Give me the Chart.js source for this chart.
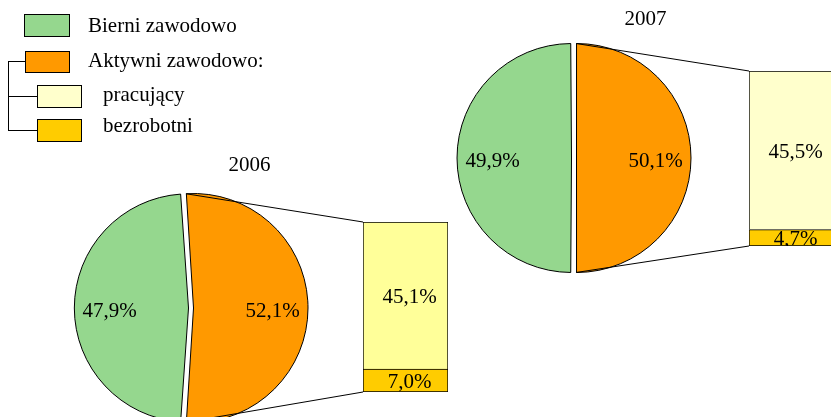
<!DOCTYPE html>
<html><head><meta charset="utf-8">
<script src="https://cdn.jsdelivr.net/npm/chart.js@4.4.0/dist/chart.umd.min.js"></script>
<style>
html,body{margin:0;padding:0;background:#fff;overflow:hidden}
#root{position:relative;width:831px;height:417px;overflow:hidden;font-family:"Liberation Serif","Times New Roman",serif;background:#fff}
.wrap{position:absolute}
.box{position:absolute;box-sizing:border-box;border:1px solid #000}
.txt{position:absolute;font-size:21px;line-height:21px;white-space:nowrap;color:#000}
.ln{position:absolute;background:#000}
#overlay{position:absolute;left:0;top:0;pointer-events:none}
</style></head>
<body><div id="root">
<canvas id="overlay" width="831" height="417"></canvas>
</div>
<script>
// ---- data ----
const years = ['2006', '2007'];
const bierni = [47.9, 49.9];
const aktywni = [52.1, 50.1];
const pracujacy = [45.1, 45.5];
const bezrobotni = [7.0, 4.7];
const legendLabels = ['Bierni zawodowo', 'Aktywni zawodowo:', 'pracujący', 'bezrobotni'];

// ---- styles / layout ----
const GREEN = '#95D78E', ORANGE = '#FF9900', YEL = '#FFCC00';
const PRAC_COLORS = ['#FFFF99', '#FFFFCC'];
const LEG_COLORS = [GREEN, ORANGE, '#FFFFCC', YEL];
const FONT = '21px "Liberation Serif", "Times New Roman", serif';
const layouts = [
  {pie: {left: 71, top: 188, size: 240}, bar: {left: 363, top: 222, w: 85, h: 170}, title: {cx: 249.5, base: 172}},
  {pie: {left: 454, top: 38, size: 240}, bar: {left: 749, top: 71, w: 85, h: 175}, title: {cx: 645.5, base: 26}}
];
const PIE_R = 112, EXPLODE = 10; // Chart.js arc offset (translation = offset/4)
const root = document.getElementById('root');
const fmt = v => v.toFixed(1).replace('.', ',') + '%';

function addText(txt, left, baseline, extra) {
  const d = document.createElement('div');
  d.className = 'txt';
  d.textContent = txt;
  d.style.left = left + 'px';
  d.style.top = (baseline - 17.6) + 'px';
  if (extra) Object.assign(d.style, extra);
  root.appendChild(d);
  return d;
}
function addLine(l, t, w, h) {
  const d = document.createElement('div');
  d.className = 'ln';
  Object.assign(d.style, {left: l + 'px', top: t + 'px', width: w + 'px', height: h + 'px'});
  root.appendChild(d);
}

// ---- legend ----
const legBoxes = [
  {l: 24, t: 14, w: 46, h: 23, tx: 88, base: 33},
  {l: 25, t: 51, w: 45, h: 22, tx: 88, base: 68},
  {l: 37, t: 85, w: 45, h: 23, tx: 103, base: 102},
  {l: 37, t: 119, w: 45, h: 23, tx: 103, base: 133}
];
legendLabels.forEach((lab, i) => {
  const b = legBoxes[i];
  const d = document.createElement('div');
  d.className = 'box';
  Object.assign(d.style, {left: b.l + 'px', top: b.t + 'px', width: b.w + 'px', height: b.h + 'px', background: LEG_COLORS[i]});
  root.appendChild(d);
  addText(lab, b.tx, b.base);
});
addLine(8, 61, 1, 70);
addLine(8, 61, 17, 1);
addLine(8, 96, 29, 1);
addLine(8, 130, 29, 1);

// arc geometry helper matching Chart.js v4 offset handling
function arcGeom(arc, off) {
  const p = arc.getProps(['x', 'y', 'startAngle', 'endAngle', 'outerRadius', 'circumference'], true);
  const mid = (p.startAngle + p.endAngle) / 2;
  const t = off / 4;
  const fix = 1 - Math.sin(Math.min(Math.PI, p.circumference || (p.endAngle - p.startAngle)));
  return {cx: p.x + Math.cos(mid) * t, cy: p.y + Math.sin(mid) * t, r: p.outerRadius + t * fix,
          start: p.startAngle, end: p.endAngle, mid: mid};
}

// ---- plugins ----
const pieLabels = {
  id: 'pieLabels',
  afterDatasetsDraw(chart) {
    const ctx = chart.ctx, ds = chart.data.datasets[0];
    const meta = chart.getDatasetMeta(0);
    ctx.save();
    ctx.font = FONT; ctx.fillStyle = '#000'; ctx.textAlign = 'center'; ctx.textBaseline = 'middle';
    meta.data.forEach((arc, j) => {
      const g = arcGeom(arc, ds.offset[j] || 0);
      const r = g.r * 0.69;
      ctx.fillText(fmt(ds.data[j]), g.cx + Math.cos(g.mid) * r, g.cy + Math.sin(g.mid) * r + 3);
    });
    ctx.restore();
  }
};
const barLabels = {
  id: 'barLabels',
  afterDatasetsDraw(chart) {
    const ctx = chart.ctx;
    ctx.save();
    ctx.font = FONT; ctx.fillStyle = '#000'; ctx.textAlign = 'center'; ctx.textBaseline = 'middle';
    chart.data.datasets.forEach((ds, k) => {
      chart.getDatasetMeta(k).data.forEach((el, j) => {
        const p = el.getProps(['x', 'y', 'base'], true);
        ctx.fillText(fmt(ds.data[j]), p.x + 4, (p.y + p.base) / 2 + 2);
      });
    });
    ctx.restore();
  }
};

function makeCanvas(l, t, w, h) {
  const wrap = document.createElement('div');
  wrap.className = 'wrap';
  Object.assign(wrap.style, {left: l + 'px', top: t + 'px', width: w + 'px', height: h + 'px'});
  const c = document.createElement('canvas');
  c.width = w; c.height = h;
  c.style.width = w + 'px'; c.style.height = h + 'px';
  wrap.appendChild(c);
  root.insertBefore(wrap, document.getElementById('overlay'));
  return c;
}

const pies = [], bars = [];
years.forEach((yr, i) => {
  const L = layouts[i];
  addText(yr, L.title.cx - 50, L.title.base, {width: '100px', textAlign: 'center'});
  const pc = makeCanvas(L.pie.left, L.pie.top, L.pie.size, L.pie.size);
  pies.push(new Chart(pc, {
    type: 'pie',
    data: {
      labels: ['Aktywni zawodowo', 'Bierni zawodowo'],
      datasets: [{
        data: [aktywni[i], bierni[i]],
        backgroundColor: [ORANGE, GREEN],
        borderColor: '#000', borderWidth: 1,
        offset: [EXPLODE, EXPLODE], hoverOffset: 0
      }]
    },
    options: {
      responsive: false, animation: false, events: [],
      radius: PIE_R,
      rotation: 90 - aktywni[i] * 180 / (aktywni[i] + bierni[i]),
      layout: {padding: 0},
      plugins: {legend: {display: false}, tooltip: {enabled: false}}
    },
    plugins: [pieLabels]
  }));
  const bc = makeCanvas(L.bar.left, L.bar.top, L.bar.w, L.bar.h);
  bars.push(new Chart(bc, {
    type: 'bar',
    data: {
      labels: [yr],
      datasets: [
        {label: 'bezrobotni', data: [bezrobotni[i]], backgroundColor: YEL, borderColor: '#000', borderWidth: 1, borderSkipped: false, barPercentage: 1, categoryPercentage: 1},
        {label: 'pracujący', data: [pracujacy[i]], backgroundColor: PRAC_COLORS[i], borderColor: '#000', borderWidth: 1, borderSkipped: 'bottom', barPercentage: 1, categoryPercentage: 1}
      ]
    },
    options: {
      responsive: false, animation: false, events: [],
      layout: {padding: 0},
      scales: {
        x: {stacked: true, display: false},
        y: {stacked: true, display: false, min: 0, max: bezrobotni[i] + pracujacy[i]}
      },
      plugins: {legend: {display: false}, tooltip: {enabled: false}}
    },
    plugins: [barLabels]
  }));
});

function drawConnectors() {
  const oc = document.getElementById('overlay');
  const ctx = oc.getContext('2d');
  ctx.clearRect(0, 0, oc.width, oc.height);
  ctx.strokeStyle = '#000'; ctx.lineWidth = 1;
  years.forEach((yr, i) => {
    const L = layouts[i];
    const g = arcGeom(pies[i].getDatasetMeta(0).data[0], EXPLODE);
    const cx = L.pie.left + g.cx, cy = L.pie.top + g.cy;
    const top = bars[i].getDatasetMeta(1).data[0].getProps(['x', 'y', 'width'], true);
    const bot = bars[i].getDatasetMeta(0).data[0].getProps(['x', 'base', 'width'], true);
    const bx = L.bar.left + top.x - top.width / 2;
    ctx.beginPath();
    ctx.moveTo(cx + Math.cos(g.start) * g.r, cy + Math.sin(g.start) * g.r);
    ctx.lineTo(bx, L.bar.top + top.y);
    ctx.moveTo(cx + Math.cos(g.end) * g.r, cy + Math.sin(g.end) * g.r);
    ctx.lineTo(bx, L.bar.top + bot.base);
    ctx.stroke();
  });
}
drawConnectors();
window.addEventListener('load', drawConnectors);
</script>
</body></html>
